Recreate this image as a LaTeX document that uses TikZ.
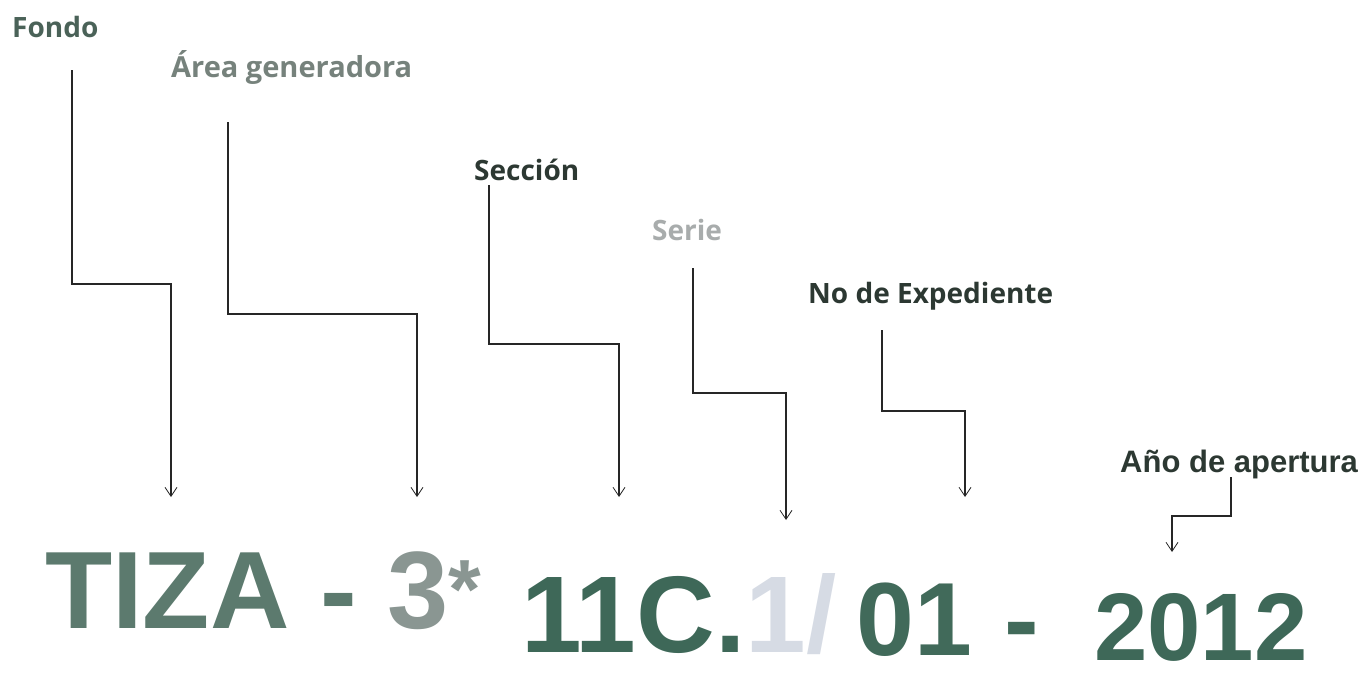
\documentclass[tikz,border=0pt]{standalone}
\usepackage{fontspec}
\setmainfont{Liberation Sans}
\newfontfamily\lblfont{Open Sans}
\usepackage{tikz}
\usetikzlibrary{arrows.meta,positioning,calc}

\definecolor{tizagreen}{RGB}{92,122,110}
\definecolor{codegreen}{RGB}{62,104,88}
\definecolor{fadegray}{RGB}{138,150,146}
\definecolor{palegray}{RGB}{214,219,228}
\definecolor{inkdark}{RGB}{44,56,50}
\definecolor{inkgray}{RGB}{118,130,124}
\definecolor{inklight}{RGB}{168,172,172}

\begin{document}
\begin{tikzpicture}[x=1pt, y=-1pt,
    lbl/.style={inner sep=0pt, anchor=base west, font=\lblfont\bfseries\fontsize{28}{30}\selectfont},
    code/.style={inner sep=0pt, anchor=base west, text depth=0pt, font=\bfseries},
    conn/.style={draw=black!85, line width=1.1pt, -{Straight Barb[length=9pt,width=12pt,line width=0.8pt]}},
]
\useasboundingbox (0,0) rectangle (1362,673);

% Labels
\node[lbl, text=tizagreen!80!black] (fondo) at (12,37) {Fondo};
\node[lbl, text=inkgray, font=\lblfont\bfseries\fontsize{29}{31}\selectfont] (area) at (171,77) {Área generadora};
\node[lbl, text=inkdark] (seccion) at (474,180) {Sección};
\node[lbl, text=inklight] (serie) at (652,240) {Serie};
\node[lbl, text=inkdark] (expediente) at (808,303) {No de Expediente};
\node[lbl, text=inkdark, font=\bfseries\fontsize{31}{33}\selectfont] (apertura) at (1120,472) {Año de apertura};

% Reference code
\node[code, text=tizagreen, font=\bfseries\fontsize{110}{120}\selectfont] (tiza) at (45,628)
    {TIZA - \textcolor{fadegray}{3{\fontsize{84}{90}\selectfont\raisebox{10pt}{*}}}};
\node[code, text=codegreen, font=\bfseries\fontsize{109}{120}\selectfont] (serial) at (521,652)
    {11C.\textcolor{palegray}{1/}};
\node[code, text=codegreen!90!tizagreen, font=\bfseries\fontsize{104}{114}\selectfont] (numero) at (856,655)
    {01 \hspace{4pt}-};
\node[code, text=codegreen, font=\bfseries\fontsize{96}{106}\selectfont] (anio) at (1094,660) {2012};

% Connector points
\coordinate (fondo-s) at (72,70);   \coordinate (fondo-k) at (171,284);  \coordinate (fondo-t) at (171,497);
\coordinate (area-s) at (228,122);  \coordinate (area-k) at (417,314);   \coordinate (area-t) at (417,497);
\coordinate (secc-s) at (489,185);  \coordinate (secc-k) at (619,344);   \coordinate (secc-t) at (619,497);
\coordinate (serie-s) at (693,268); \coordinate (serie-k) at (786,393);  \coordinate (serie-t) at (786,520);
\coordinate (exp-s) at (882,330);   \coordinate (exp-k) at (965,411);    \coordinate (exp-t) at (965,497);
\coordinate (ape-s) at (1231,477);  \coordinate (ape-k) at (1172,516);   \coordinate (ape-t) at (1172,552);

% Connectors
\draw[conn] (fondo-s) |- (fondo-k) -- (fondo-t);
\draw[conn] (area-s) |- (area-k) -- (area-t);
\draw[conn] (secc-s) |- (secc-k) -- (secc-t);
\draw[conn] (serie-s) |- (serie-k) -- (serie-t);
\draw[conn] (exp-s) |- (exp-k) -- (exp-t);
\draw[conn] (ape-s) |- (ape-k) -- (ape-t);
\end{tikzpicture}
\end{document}
